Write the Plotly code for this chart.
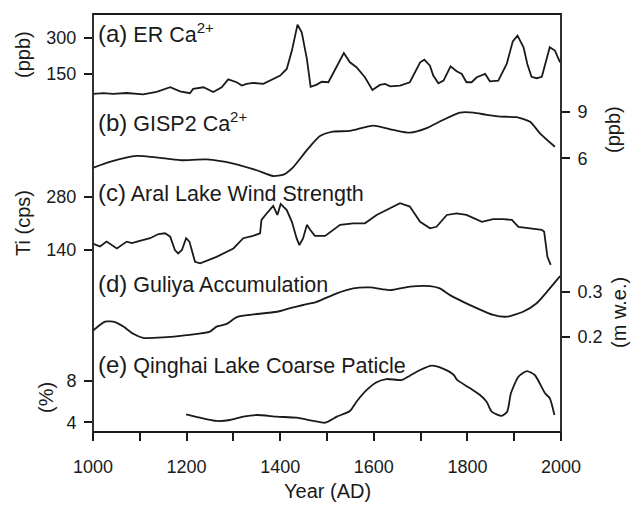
import plotly.graph_objects as go

# ---------------- data ----------------
ER_YEARS = [1001,1022,1043,1072,1107,1136,1165,1186,1207,1214,1236,1257,1275,1289,1307,1318,1328,1343,1364,1382,
            1400,1414,1425,1437,1446,1457,1465,1478,1489,1503,1520,1536,1549,1563,1581,1597,1613,1624,1635,1656,
            1677,1688,1699,1708,1720,1727,1738,1749,1764,1777,1788,1798,1809,1820,1838,1848,1866,1884,1897,1907,
            1920,1928,1937,1948,1959,1976,1987,1998]
ER_CA = [65,68,65,69,63,74,93,76,68,86,93,73,93,126,114,100,107,111,107,124,
         142,170,247,356,324,212,95,104,116,114,177,237,198,177,135,82,103,107,97,100,
         114,156,198,209,184,142,110,121,181,160,149,114,114,135,149,118,121,191,286,310,
         261,191,137,131,137,261,247,198]

GISP_YEARS = [1001,1036,1093,1136,1186,1243,1300,1350,1385,1407,1428,1457,1485,1513,1549,1599,1642,1677,1713,1741,
              1784,1813,1841,1870,1905,1934,1955,1987]
GISP_CA = [5.39,5.76,6.15,6.05,5.87,5.92,5.65,5.22,4.85,4.94,5.43,6.52,7.43,7.72,7.76,8.11,7.83,7.65,7.94,8.37,
           8.95,8.95,8.80,8.69,8.65,8.35,7.61,6.74]

ARAL_YEARS = [1001,1015,1029,1051,1072,1083,1100,1122,1140,1154,1165,1175,1182,1190,1199,1206,1218,1229,1264,1300,
              1321,1342,1357,1360,1371,1385,1394,1401,1414,1425,1435,1441,1449,1457,1464,1474,1496,1528,1556,1581,
              1606,1635,1656,1677,1699,1720,1734,1756,1777,1798,1813,1831,1855,1877,1895,1909,1934,1959,1964,1971,1978]
ARAL_TI = [156,149,162,144,162,158,164,171,182,184,175,140,131,140,171,162,109,105,122,144,
           171,177,184,219,236,256,232,261,245,214,171,153,171,206,193,177,177,206,210,210,
           232,250,263,254,214,197,201,232,236,232,223,214,221,221,219,201,197,193,188,122,101]

GULIYA_YEARS = [1001,1026,1047,1065,1086,1107,1150,1200,1250,1264,1286,1307,1335,1393,1421,1449,1478,1521,1556,1592,
                1635,1677,1720,1741,1763,1791,1820,1855,1884,1919,1948,1973,1998]
GULIYA_ACC = [0.214,0.233,0.232,0.222,0.206,0.197,0.198,0.203,0.211,0.222,0.228,0.243,0.248,0.255,0.263,0.270,0.277,
              0.296,0.307,0.309,0.303,0.311,0.312,0.307,0.292,0.277,0.263,0.248,0.244,0.255,0.274,0.303,0.334]

QH_YEARS = [1199,1229,1264,1293,1321,1350,1393,1435,1471,1496,1521,1549,1563,1585,1606,1627,1660,1677,1699,1724,
            1749,1771,1778,1806,1827,1841,1852,1873,1885,1893,1909,1927,1944,1966,1976,1986]
QH_PCT = [4.77,4.44,4.13,4.22,4.54,4.70,4.54,4.44,4.13,3.96,4.54,5.09,5.98,7.11,7.85,8.16,8.07,8.48,9.03,9.44,
          9.13,8.55,8.07,7.27,6.63,5.98,5.02,4.61,5.02,6.79,8.38,8.93,8.55,6.79,6.31,4.70]

X_TICKS = [1000, 1200, 1400, 1600, 1800, 2000]
X_LABELS = [str(v) for v in X_TICKS]

# ---------------- layout geometry ----------------
W, H = 632, 507
L, R, T, B = 93, 561, 14, 432
PW, PH = R - L, B - T
INK = "#1a1a1a"
FONT = "Liberation Sans, Arial, sans-serif"


def px2x(px):
    return (px - L) / PW


def py2y(py):
    return (B - py) / PH


def rng(v1, p1, v2, p2):
    k = (v1 - v2) / (p2 - p1)
    return [v2 - (B - p2) * k, v1 + (p1 - T) * k]


fig = go.Figure()
line = dict(color=INK, width=1.8)
fig.add_trace(go.Scatter(x=ER_YEARS, y=ER_CA, mode="lines", line=line, yaxis="y"))
fig.add_trace(go.Scatter(x=GISP_YEARS, y=GISP_CA, mode="lines", line=dict(line, shape="spline", smoothing=0.6), yaxis="y2"))
fig.add_trace(go.Scatter(x=ARAL_YEARS, y=ARAL_TI, mode="lines", line=line, yaxis="y3"))
fig.add_trace(go.Scatter(x=GULIYA_YEARS, y=GULIYA_ACC, mode="lines", line=dict(line, shape="spline", smoothing=0.6), yaxis="y4"))
fig.add_trace(go.Scatter(x=QH_YEARS, y=QH_PCT, mode="lines", line=dict(line, shape="spline", smoothing=0.6), yaxis="y5"))

tickfont = dict(family=FONT, size=18, color=INK)
yax = dict(showgrid=False, zeroline=False, showline=False, ticks="outside", ticklen=8,
           tickwidth=1.8, tickcolor=INK, tickfont=tickfont, fixedrange=True, ticklabelstandoff=4)

fig.update_layout(
    width=W, height=H,
    margin=dict(l=L, r=W - R, t=T, b=H - B, pad=0),
    paper_bgcolor="white", plot_bgcolor="white",
    showlegend=False,
    font=dict(family=FONT, color=INK),
    xaxis=dict(range=[1000, 2000], tickvals=X_TICKS, ticktext=X_LABELS, ticks="outside", ticklen=8,
               tickwidth=1.8, tickcolor=INK, tickfont=tickfont, showgrid=False, zeroline=False,
               showline=False, ticklabelstandoff=10,
               minor=dict(dtick=100, tick0=1000, ticks="outside", ticklen=8, tickwidth=1.8,
                          tickcolor=INK, showgrid=False)),
    yaxis=dict(yax, range=rng(300, 38, 150, 73.7), tickvals=[150, 300], side="left"),
    yaxis2=dict(yax, range=rng(9, 111.8, 6, 158.2), tickvals=[6, 9], side="right", overlaying="y", anchor="x"),
    yaxis3=dict(yax, range=rng(280, 196.7, 140, 250), tickvals=[140, 280], side="left", overlaying="y", anchor="x"),
    yaxis4=dict(yax, range=rng(0.3, 291.5, 0.2, 336.5), tickvals=[0.2, 0.3], ticktext=["0.2", "0.3"],
                side="right", overlaying="y", anchor="x"),
    yaxis5=dict(yax, range=rng(8, 380.7, 4, 422.3), tickvals=[4, 8], side="left", overlaying="y", anchor="x"),
)

fig.add_shape(type="rect", xref="paper", yref="paper", x0=0, x1=1, y0=0, y1=1,
              line=dict(color=INK, width=1.8), fillcolor="rgba(0,0,0,0)", layer="above")

panel_labels = [
    ("(a)", " ER Ca<sup>2+</sup>", 33),
    ("(b)", " GISP2 Ca<sup>2+</sup>", 122),
    ("(c)", " Aral Lake Wind Strength", 192),
    ("(d)", " Guliya Accumulation", 283),
    ("(e)", " Qinghai Lake Coarse Paticle", 364),
]
for tag, txt, py in panel_labels:
    fig.add_annotation(xref="paper", yref="paper", x=px2x(96), y=py2y(py), xanchor="left", yanchor="middle",
                       text='<span style="font-size:24px">' + tag + '</span>' + txt, showarrow=False,
                       font=dict(family=FONT, size=21.5, color=INK))

axis_titles = [
    ("(ppb)", 23, 55),
    ("Ti (cps)", 23, 223),
    ("(%)", 46, 398),
    ("(ppb)", 613, 130),
    ("(m w.e.)", 619, 313),
]
for txt, px, py in axis_titles:
    fig.add_annotation(xref="paper", yref="paper", x=px2x(px), y=py2y(py), xanchor="center", yanchor="middle",
                       text=txt, textangle=-90, showarrow=False, font=dict(family=FONT, size=20, color=INK))

fig.add_annotation(xref="paper", yref="paper", x=px2x(327), y=py2y(491), xanchor="center", yanchor="middle",
                   text="Year (AD)", showarrow=False, font=dict(family=FONT, size=20, color=INK))

fig.write_html("out.html")
